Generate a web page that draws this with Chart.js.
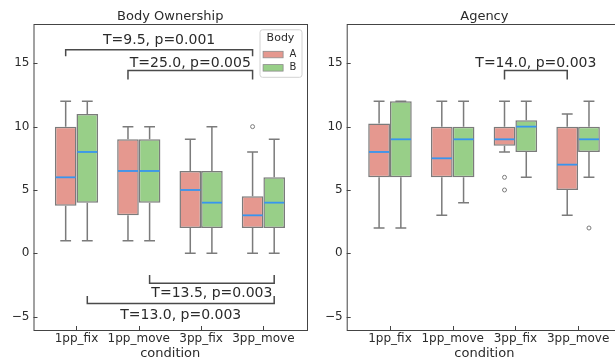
<!DOCTYPE html>
<html>
<head>
<meta charset="utf-8">
<title>Body Ownership / Agency</title>
<script src="https://cdn.jsdelivr.net/npm/chart.js@4.4.1/dist/chart.umd.min.js"></script>
<style>
  body { margin: 0; background: #fff; overflow: hidden; width: 615px; height: 363px; position: relative; }
  canvas { position: absolute; top: 0; }
  #ownership_canvas { left: 0; }
  #agency_canvas { left: 310px; }
</style>
</head>
<body>
<canvas id="ownership_canvas" width="310" height="363"></canvas>
<canvas id="agency_canvas" width="316" height="363"></canvas>
<script>
/* x categories, hue names and y tick labels shared by both panels */
var conditions = ['1pp_fix', '1pp_move', '3pp_fix', '3pp_move'];
var bodies = ['A', 'B'];
var y_ticks = [-5, 0, 5, 10, 15];

/* Body Ownership: whisker ends, quartiles, medians and outliers for each condition */
var own_A_low = [1, 1, 0, 0];
var own_A_q1 = [3.75, 3, 2, 2];
var own_A_median = [6, 6.5, 5, 3];
var own_A_q3 = [10, 9, 6.5, 4.5];
var own_A_high = [12, 10, 9, 8];
var own_A_outliers = [[], [], [], [10]];

var own_B_low = [1, 1, 0, 0];
var own_B_q1 = [4, 4, 2, 2];
var own_B_median = [8, 6.5, 4, 4];
var own_B_q3 = [11, 9, 6.5, 6];
var own_B_high = [12, 10, 10, 9];
var own_B_outliers = [[], [], [], []];

/* Agency */
var agency_A_low = [2, 3, 8, 3];
var agency_A_q1 = [6, 6, 8.5, 5];
var agency_A_median = [8, 7.5, 9, 7];
var agency_A_q3 = [10.25, 10, 10, 10];
var agency_A_high = [12, 12, 12, 11];
var agency_A_outliers = [[], [], [6, 5], []];

var agency_B_low = [2, 4, 6, 6];
var agency_B_q1 = [6, 6, 8, 8];
var agency_B_median = [9, 9, 10, 9];
var agency_B_q3 = [12, 10, 10.5, 10];
var agency_B_high = [12, 12, 12, 12];
var agency_B_outliers = [[], [], [], [2]];

/* Test results drawn as brackets. from / to are [condition, body],
   y is the bracket line, leg the end of its legs, label_y the text baseline. */
var own_tests = [
  { text: 'T=9.5, p=0.001', from: [0, 0], to: [3, 0], y: 16.07, leg: 15.55, label_y: 16.51 },
  { text: 'T=25.0, p=0.005', from: [1, 0], to: [3, 0], y: 14.44, leg: 13.72, label_y: 14.68 },
  { text: 'T=13.5, p=0.003', from: [1, 1], to: [3, 1], y: -2.37, leg: -1.70, label_y: -3.43 },
  { text: 'T=13.0, p=0.003', from: [0, 1], to: [3, 1], y: -3.95, leg: -3.37, label_y: -5.21 }
];
var agency_tests = [
  { text: 'T=14.0, p=0.003', from: [2, 0], to: [3, 0], y: 14.44, leg: 13.72, label_y: 14.68 }
];

var body_colors = ['#e5988f', '#98cf88'];
var edge_color = '#7b7b7b';
var median_color = '#3795ef';
var ink = '#2b2b2b';
var font_family = '"DejaVu Sans", sans-serif';


/* Builds one bar dataset per body: the bar is the box (q1..q3),
   the rest of the box plot is kept on the dataset for the plugin. */
function make_dataset(label, color, low, q1, median, q3, high, outliers) {
  return {
    label: label,
    data: conditions.map(function(c, i) { return { x: i, y: [q1[i], q3[i]] }; }),
    backgroundColor: color,
    borderColor: edge_color,
    borderWidth: 1.5,
    borderSkipped: false,
    categoryPercentage: 0.694,
    barPercentage: 1,
    low: low,
    median: median,
    high: high,
    outliers: outliers
  };
}


/* Plugin that draws whiskers, medians, outliers, the frame, ticks,
   the panel title, the legend and the test brackets. */
var boxplot_plugin = {
  id: 'boxplot_extras',
  beforeDatasetsDraw: function(chart) {
    var ctx = chart.ctx;
    var ys = chart.scales.y;
    ctx.save();
    ctx.strokeStyle = edge_color;
    ctx.lineWidth = 1.5;
    chart.data.datasets.forEach(function(ds, d) {
      chart.getDatasetMeta(d).data.forEach(function(bar, i) {
        var cap = bar.width / 4;
        var q1 = ys.getPixelForValue(ds.data[i].y[0]);
        var q3 = ys.getPixelForValue(ds.data[i].y[1]);
        var lo = ys.getPixelForValue(ds.low[i]);
        var hi = ys.getPixelForValue(ds.high[i]);
        ctx.beginPath();
        ctx.moveTo(bar.x, q3); ctx.lineTo(bar.x, hi);
        ctx.moveTo(bar.x - cap, hi); ctx.lineTo(bar.x + cap, hi);
        ctx.moveTo(bar.x, q1); ctx.lineTo(bar.x, lo);
        ctx.moveTo(bar.x - cap, lo); ctx.lineTo(bar.x + cap, lo);
        ctx.stroke();
      });
    });
    ctx.restore();
  },
  afterDatasetsDraw: function(chart) {
    var ctx = chart.ctx;
    var ys = chart.scales.y;
    ctx.save();
    chart.data.datasets.forEach(function(ds, d) {
      chart.getDatasetMeta(d).data.forEach(function(bar, i) {
        var half = bar.width / 2 - 0.75;
        var m = ys.getPixelForValue(ds.median[i]);
        ctx.strokeStyle = median_color;
        ctx.lineWidth = 1.8;
        ctx.beginPath();
        ctx.moveTo(bar.x - half, m); ctx.lineTo(bar.x + half, m);
        ctx.stroke();
        ctx.strokeStyle = edge_color;
        ctx.lineWidth = 1;
        ds.outliers[i].forEach(function(v) {
          ctx.beginPath();
          ctx.arc(bar.x, ys.getPixelForValue(v), 2, 0, Math.PI * 2);
          ctx.stroke();
        });
      });
    });
    ctx.restore();
  },
  afterDraw: function(chart) {
    var ctx = chart.ctx;
    var area = chart.chartArea;
    var xs = chart.scales.x;
    var ys = chart.scales.y;
    var opts = chart.options.plugins.boxplot_extras;
    ctx.save();

    /* frame and inward ticks */
    ctx.strokeStyle = '#444';
    ctx.lineWidth = 1;
    ctx.strokeRect(area.left + 0.5, area.top + 0.5, area.right - area.left, area.bottom - area.top);
    ctx.beginPath();
    y_ticks.forEach(function(v) {
      var py = Math.round(ys.getPixelForValue(v)) + 0.5;
      ctx.moveTo(area.left, py); ctx.lineTo(area.left + 4, py);
    });
    conditions.forEach(function(c, i) {
      var px = Math.round(xs.getPixelForValue(i)) + 0.5;
      ctx.moveTo(px, area.bottom); ctx.lineTo(px, area.bottom - 4);
    });
    ctx.stroke();

    /* panel title */
    ctx.fillStyle = ink;
    ctx.font = '13px ' + font_family;
    ctx.textAlign = 'center';
    ctx.textBaseline = 'alphabetic';
    ctx.fillText(opts.title, (area.left + area.right) / 2, 19.5);

    /* brackets with test results */
    opts.tests.forEach(function(t) {
      var x1 = chart.getDatasetMeta(t.from[1]).data[t.from[0]].x;
      var x2 = chart.getDatasetMeta(t.to[1]).data[t.to[0]].x;
      var by = ys.getPixelForValue(t.y);
      var ly = ys.getPixelForValue(t.leg);
      ctx.strokeStyle = '#4a4a4a';
      ctx.lineWidth = 1.5;
      ctx.beginPath();
      ctx.moveTo(x1, ly); ctx.lineTo(x1, by); ctx.lineTo(x2, by); ctx.lineTo(x2, ly);
      ctx.stroke();
      ctx.fillStyle = ink;
      ctx.font = '14px ' + font_family;
      ctx.textAlign = 'center';
      ctx.fillText(t.text, (x1 + x2) / 2, ys.getPixelForValue(t.label_y));
    });

    /* legend inside the upper right corner */
    if (opts.legend) {
      var lx = area.right - 47.5;
      var lt = area.top + 5.3;
      ctx.fillStyle = 'rgba(255,255,255,0.85)';
      ctx.strokeStyle = '#d2d2d2';
      ctx.lineWidth = 1;
      ctx.beginPath();
      ctx.roundRect(lx + 0.5, lt + 0.5, 42, 47.5, 2.5);
      ctx.fill();
      ctx.stroke();
      ctx.fillStyle = ink;
      ctx.font = '11px ' + font_family;
      ctx.textAlign = 'center';
      ctx.textBaseline = 'middle';
      ctx.fillText('Body', lx + 21, lt + 9);
      bodies.forEach(function(b, k) {
        var cy = lt + 25 + k * 13.3;
        ctx.fillStyle = body_colors[k];
        ctx.strokeStyle = '#8c8c8c';
        ctx.lineWidth = 0.8;
        ctx.fillRect(lx + 3.6, cy - 3, 20, 6.5);
        ctx.strokeRect(lx + 3.6, cy - 3, 20, 6.5);
        ctx.fillStyle = ink;
        ctx.font = '10px ' + font_family;
        ctx.textAlign = 'left';
        ctx.fillText(b, lx + 30, cy);
      });
    }
    ctx.restore();
  }
};


/* This function creates one box plot panel. */
function create_box_chart(canvas_id, title, datasets, tests, axis_width, right_pad, legend) {
  const ctx = document.getElementById(canvas_id);
  return new Chart(ctx, {
    type: 'bar',
    data: { datasets: datasets },
    plugins: [boxplot_plugin],
    options: {
      responsive: false,
      animation: false,
      events: [],
      layout: { padding: { left: 0, right: right_pad, top: 24, bottom: 0 } },
      plugins: {
        legend: { display: false },
        tooltip: { enabled: false },
        boxplot_extras: { title: title, tests: tests, legend: legend }
      },
      scales: {
        x: {
          type: 'linear',
          min: -0.69,
          max: 3.7,
          offset: false,
          grid: { display: false, drawTicks: false, offset: false },
          border: { display: false },
          afterBuildTicks: function(scale) {
            scale.ticks = conditions.map(function(c, i) { return { value: i }; });
          },
          afterFit: function(scale) { scale.height = 33; },
          ticks: {
            autoSkip: false,
            maxRotation: 0,
            padding: 1.5,
            color: ink,
            font: { family: font_family, size: 12 },
            callback: function(value) { return conditions[value]; }
          },
          title: {
            display: true,
            text: 'condition',
            color: ink,
            padding: { top: 0, bottom: 2 },
            font: { family: font_family, size: 13 }
          }
        },
        y: {
          min: -6.05,
          max: 18.1,
          grid: { display: false, drawTicks: false },
          border: { display: false },
          afterBuildTicks: function(scale) {
            scale.ticks = y_ticks.map(function(v) { return { value: v }; });
          },
          afterFit: function(scale) { scale.width = axis_width; },
          ticks: {
            padding: 4,
            color: ink,
            font: { family: font_family, size: 12 },
            callback: function(value) { return value < 0 ? '\u2212' + (-value) : String(value); }
          }
        }
      }
    }
  });
}


create_box_chart('ownership_canvas', 'Body Ownership', [
  make_dataset('A', body_colors[0], own_A_low, own_A_q1, own_A_median, own_A_q3, own_A_high, own_A_outliers),
  make_dataset('B', body_colors[1], own_B_low, own_B_q1, own_B_median, own_B_q3, own_B_high, own_B_outliers)
], own_tests, 33.5, 3, true);

create_box_chart('agency_canvas', 'Agency', [
  make_dataset('A', body_colors[0], agency_A_low, agency_A_q1, agency_A_median, agency_A_q3, agency_A_high, agency_A_outliers),
  make_dataset('B', body_colors[1], agency_B_low, agency_B_q1, agency_B_median, agency_B_q3, agency_B_high, agency_B_outliers)
], agency_tests, 36.7, 4, false);
</script>
</body>
</html>
